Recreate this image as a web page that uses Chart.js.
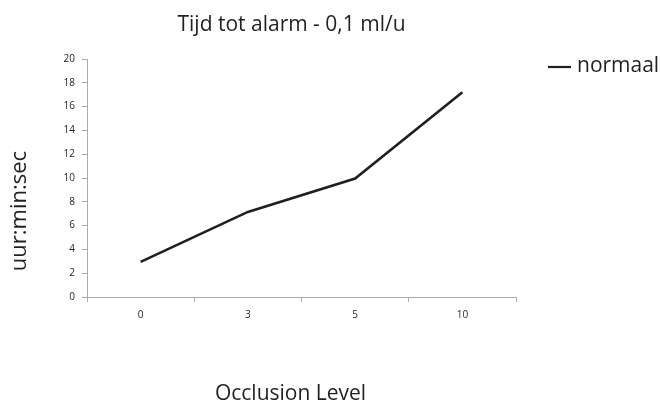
<!DOCTYPE html>
<html>
<head>
<meta charset="utf-8">
<script src="https://cdn.jsdelivr.net/npm/chart.js@4/dist/chart.umd.min.js"></script>
<style>
  html, body { margin: 0; padding: 0; background: #fff; }
  #wrap { width: 663px; height: 403px; position: relative; }
</style>
</head>
<body>
<div id="wrap"><canvas id="c" width="663" height="403"></canvas></div>
<script>
// Occlusion levels along the x axis
const occlusionLevels = ['0', '3', '5', '10'];
// Time until alarm at 0,1 ml/u, "normaal" series
const normaalValues = [2.95, 7.15, 9.95, 17.2];
// Y axis range and step
const yMin = 0;
const yMax = 20;
const yStep = 2;

const chartTitle = 'Tijd tot alarm - 0,1 ml/u';
const xAxisTitle = 'Occlusion Level';
const yAxisTitle = 'uur:min:sec';

const axisGrey = '#ababab';
const lineColor = '#231f20';
const textColor = '#231f20';
const mainFont = '"Open Sans", "Liberation Sans", sans-serif';

// Titles and the legend entry sit around the plot area, laid out relative to it
const sideTexts = {
  id: 'sideTexts',
  afterDraw(chart) {
    const { ctx, chartArea: a } = chart;
    const ds = chart.data.datasets[0];
    ctx.save();
    ctx.fillStyle = textColor;
    ctx.textBaseline = 'alphabetic';

    // chart title
    ctx.font = '21px ' + mainFont;
    ctx.textAlign = 'center';
    ctx.fillText(chartTitle, a.left + a.width / 2 - 10, a.top - 28);

    // x axis title
    ctx.fillText(xAxisTitle, a.left + a.width / 2 - 11, a.bottom + 103);

    // y axis title, rotated
    ctx.save();
    ctx.translate(26, a.top + a.height / 2 + 33);
    ctx.rotate(-Math.PI / 2);
    ctx.font = '22px ' + mainFont;
    ctx.fillText(yAxisTitle, 0, 0);
    ctx.restore();

    // legend entry: short line sample and the series name
    const lx = a.right + 32;
    const ly = a.top + 8;
    ctx.strokeStyle = ds.borderColor;
    ctx.lineWidth = 2.2;
    ctx.beginPath();
    ctx.moveTo(lx, ly);
    ctx.lineTo(lx + 23, ly);
    ctx.stroke();
    ctx.font = '21px ' + mainFont;
    ctx.textAlign = 'left';
    ctx.fillText(ds.label, lx + 29, ly + 5);
    ctx.restore();
  }
};

new Chart(document.getElementById('c'), {
  type: 'line',
  data: {
    labels: occlusionLevels,
    datasets: [{
      label: 'normaal',
      data: normaalValues,
      borderColor: lineColor,
      backgroundColor: lineColor,
      borderWidth: 2.6,
      pointRadius: 0,
      tension: 0,
      fill: false
    }]
  },
  plugins: [sideTexts],
  options: {
    responsive: false,
    animation: false,
    layout: { padding: { left: 63, right: 147, top: 59, bottom: 76 } },
    plugins: {
      title: { display: false },
      legend: { display: false },
      tooltip: { enabled: false }
    },
    scales: {
      x: {
        offset: true,
        afterFit(scale) { scale.height = 30; },
        grid: {
          offset: true,
          drawOnChartArea: false,
          drawTicks: true,
          tickLength: 5,
          color: axisGrey
        },
        border: { color: axisGrey, width: 1 },
        ticks: {
          color: textColor,
          font: { family: mainFont, size: 10 },
          padding: 7
        }
      },
      y: {
        min: yMin,
        max: yMax,
        afterFit(scale) { scale.width = 24; },
        grid: {
          drawOnChartArea: false,
          drawTicks: true,
          tickLength: 5,
          color: axisGrey
        },
        border: { color: axisGrey, width: 1 },
        ticks: {
          stepSize: yStep,
          color: textColor,
          font: { family: mainFont, size: 10 },
          padding: 7
        }
      }
    }
  }
});
</script>
</body>
</html>
